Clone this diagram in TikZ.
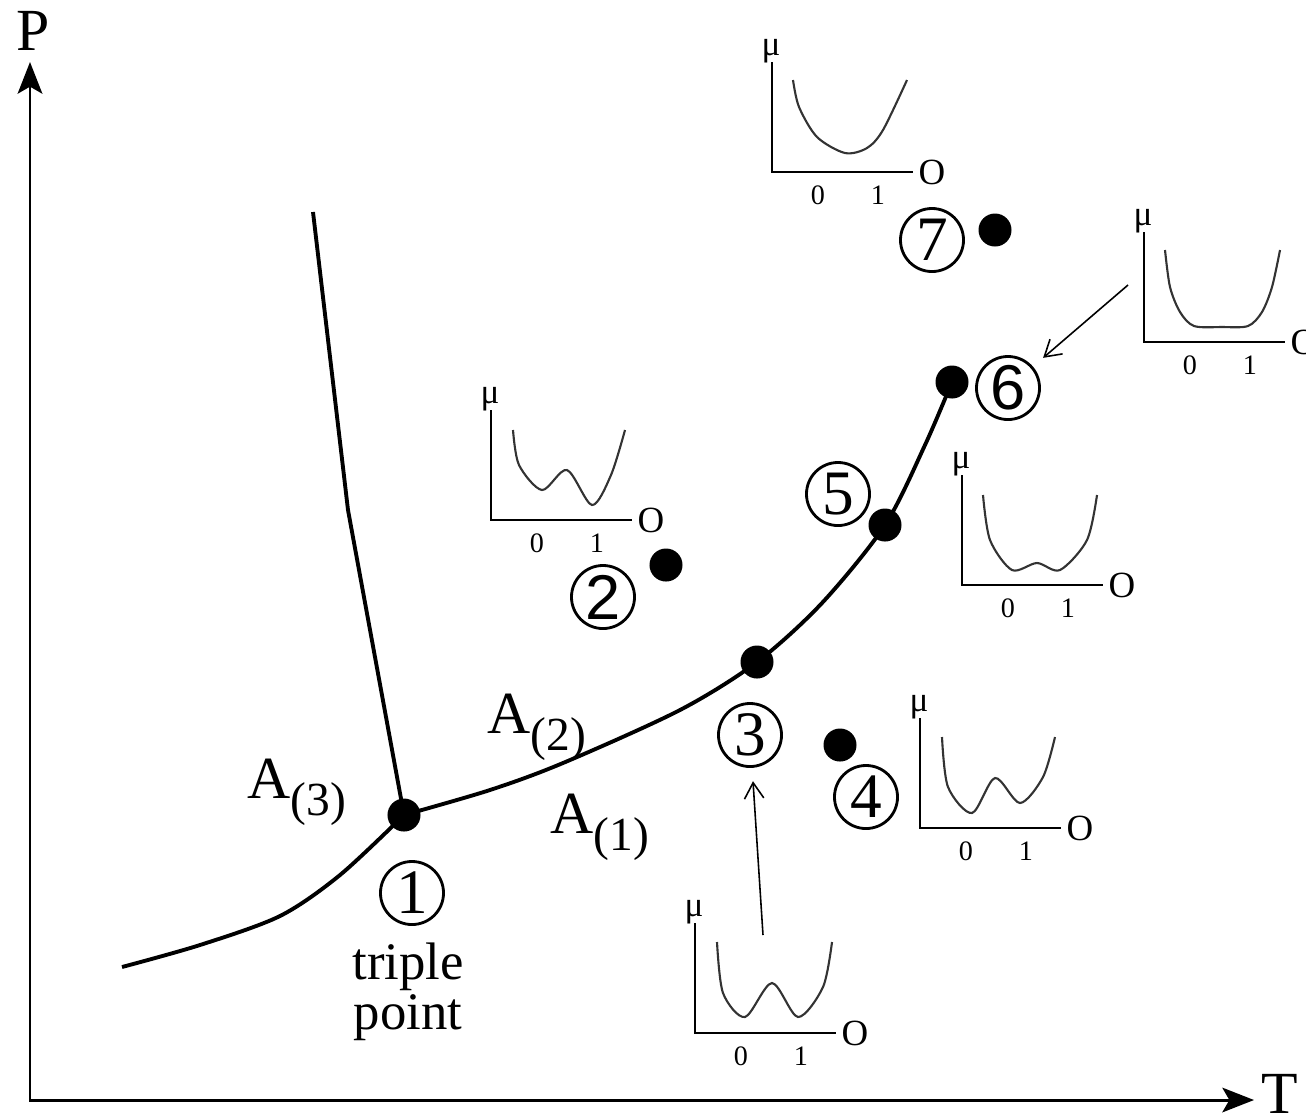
\documentclass[tikz,border=0pt]{standalone}
\usepackage{fontspec}
\setmainfont{Liberation Serif}
\setsansfont{Liberation Sans}
\usetikzlibrary{arrows.meta}
\tikzstyle{dot} = [circle, fill=black, inner sep=0pt, minimum size=0.33cm]
\tikzstyle{num} = [circle, draw=black, line width=0.8pt, inner sep=0pt, minimum size=0.63cm, font=\fontsize{18}{18}\selectfont]
\tikzstyle{phase} = [line width=1.1pt]
\tikzstyle{axis} = [line width=0.85pt, {Stealth[length=9pt,width=7pt,inset=2pt]}-{Stealth[length=9pt,width=7pt,inset=2pt]}]
\tikzstyle{pointer} = [line width=0.45pt, -{Straight Barb[length=4.5pt,width=5.5pt]}, shorten >=3.8pt]
\tikzstyle{lbl} = [inner sep=0pt, font=\fontsize{17}{17}\selectfont]
\tikzstyle{inaxis} = [line width=0.65pt]
\tikzstyle{incurve} = [line width=0.6pt, draw=black!80]
\tikzstyle{musym} = [inner sep=0pt, font=\fontsize{10}{10}\selectfont]
\tikzstyle{osym} = [inner sep=0pt, font=\fontsize{10.5}{10.5}\selectfont]
\tikzstyle{ticklbl} = [inner sep=0pt, font=\fontsize{8}{8}\selectfont]

\newcommand{\phasesub}[1]{\raisebox{-5pt}{\fontsize{13.5}{13.5}\selectfont(#1)}}
% small mu(O) sketch: name, corner x, corner y, curve points
\newcommand{\potential}[4]{%
  \begin{scope}[shift={(#2,#3)}]
    \draw[inaxis] (0,-110) -- (0,0) -- (141,0);
    \node[musym] (#1mu) at (-1,-121) {μ};
    \node[osym] (#1o) at (160,0) {O};
    \node[ticklbl] (#1zero) at (46,23) {0};
    \node[ticklbl] (#1one) at (106,23) {1};
    \draw[incurve] plot[smooth] coordinates {#4};
  \end{scope}}

\begin{document}
\begin{tikzpicture}[x=0.01cm, y=-0.01cm]
    \useasboundingbox (0,0) rectangle (1306,1117);

    % axes
    \coordinate (origin) at (30,1100);
    \coordinate (ptip) at (30,62);
    \coordinate (ttip) at (1254,1100);
    \draw [axis] (ptip) -- (origin) -- (ttip);
    \node (P) [lbl] at (33,31) {P};
    \node (T) [lbl] at (1280,1094) {T};

    % points on the diagram
    \node (d1) [dot] at (404,815) {};
    \node (d2) [dot] at (666,565) {};
    \node (d3) [dot] at (757,662) {};
    \node (d4) [dot] at (840,745) {};
    \node (d5) [dot] at (885,525) {};
    \node (d6) [dot] at (952,382) {};
    \node (d7) [dot] at (995,230) {};

    % phase boundaries
    \coordinate (fusiontop) at (313,212);
    \coordinate (fusionkink) at (348,510);
    \coordinate (sublow) at (122,967);
    \draw [phase] (fusiontop) -- (fusionkink) -- (d1.center);
    \draw [phase] plot[smooth] coordinates {(sublow) (200,945) (280,916) (340,875) (d1.center)};
    \draw [phase] plot[smooth] coordinates {(d1.center) (490,790) (563,763) (680,710) (d3.center) (822,603) (d5.center) (925,445) (d6.center)};

    % labels
    \node (a3) [lbl, anchor=base west] at (247,798) {A\phasesub{3}};
    \node (a2) [lbl, anchor=base west] at (487,733) {A\phasesub{2}};
    \node (a1) [lbl, anchor=base west] at (550,833) {A\phasesub{1}};
    \node (tp) [align=center, inner sep=0pt, font=\fontsize{15}{12.5}\selectfont] at (408,992) {triple\\point};

    \node (c1) [num] at (412,893) {1};
    \node (c2) [num, font=\fontsize{18}{18}\sffamily] at (603,597) {2};
    \node (c3) [num] at (750,735) {3};
    \node (c4) [num] at (866,797) {4};
    \node (c5) [num] at (838,494) {5};
    \node (c6) [num, font=\fontsize{18}{18}\sffamily] at (1008,388) {6};
    \node (c7) [num] at (932,240) {7};

    % insets
    \potential{pot7}{772}{172}{(21,-92) (27,-65) (45,-35) (73,-19) (95,-24) (111,-42) (135,-92)}
    \potential{pot6}{1144}{342}{(21,-92) (26,-55) (36,-30) (50,-16) (78,-15) (104,-16) (118,-30) (128,-55) (136,-92)}
    \potential{pot2}{491}{520}{(22,-90) (28,-55) (51,-30) (76,-50) (101,-15) (120,-45) (134,-90)}
    \potential{pot5}{962}{585}{(21,-90) (28,-45) (50,-15) (75,-22) (98,-15) (125,-45) (135,-90)}
    \potential{pot4}{920}{828}{(22,-91) (28,-41) (52,-15) (75,-50) (100,-25) (123,-51) (135,-91)}
    \potential{pot3}{695}{1033}{(22,-91) (28,-40) (50,-16) (77,-50) (103,-16) (128,-46) (137,-91)}

    \coordinate (p3) at (763,935);
    \coordinate (p6) at (1128,285);
    \draw [pointer] (p3) -- (c3);
    \draw [pointer] (p6) -- (c6);
\end{tikzpicture}
\end{document}
